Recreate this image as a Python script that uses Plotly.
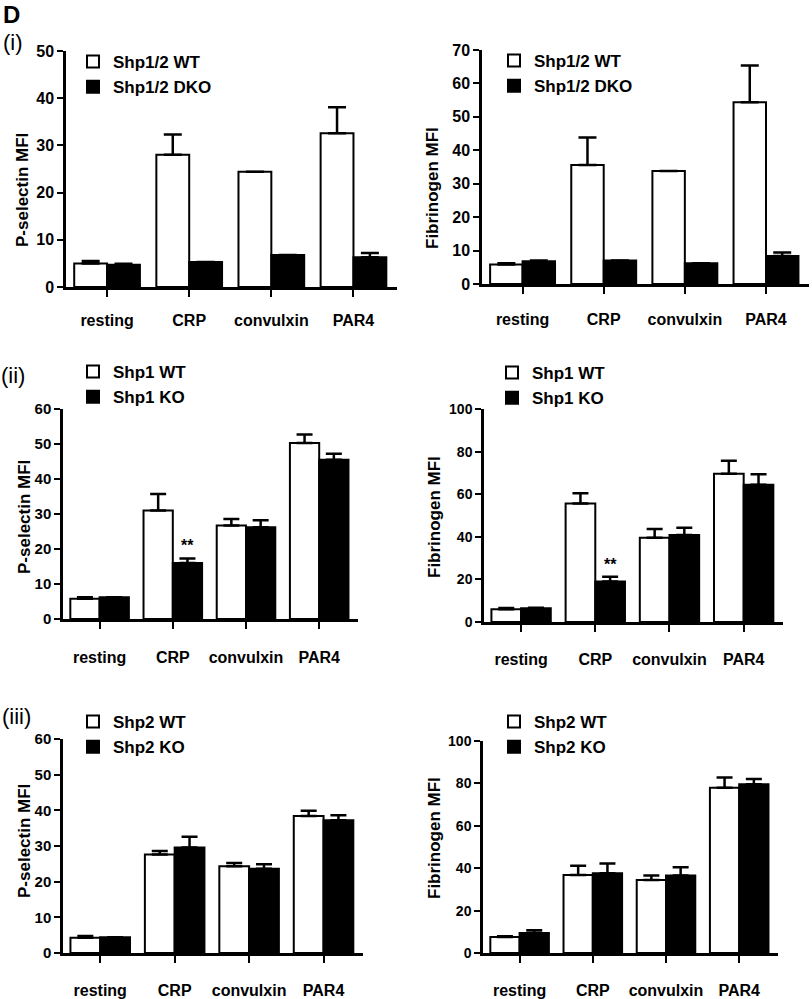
import plotly.graph_objects as go

categories = ["resting", "CRP", "convulxin", "PAR4"]

# (i) Shp1/2
p1_wt = [5.0, 28.0, 24.4, 32.6]
p1_wt_err = [0.5, 4.3, 0.0, 5.5]
p1_ko = [4.7, 5.3, 6.8, 6.3]
p1_ko_err = [0.2, 0.0, 0.0, 0.9]
f1_wt = [5.8, 35.6, 33.8, 54.4]
f1_wt_err = [0.4, 8.2, 0.0, 11.0]
f1_ko = [6.8, 7.0, 6.2, 8.4]
f1_ko_err = [0.2, 0.0, 0.0, 1.0]

# (ii) Shp1
p2_wt = [5.8, 31.0, 26.7, 50.3]
p2_wt_err = [0.4, 4.7, 1.9, 2.4]
p2_ko = [6.2, 16.0, 26.2, 45.5]
p2_ko_err = [0.0, 1.3, 2.0, 1.7]
f2_wt = [6.0, 55.6, 39.6, 69.6]
f2_wt_err = [0.6, 4.8, 4.1, 6.1]
f2_ko = [6.4, 19.0, 40.8, 64.4]
f2_ko_err = [0.3, 2.3, 3.4, 5.0]

# (iii) Shp2
p3_wt = [4.3, 27.6, 24.3, 38.4]
p3_wt_err = [0.5, 1.0, 0.9, 1.5]
p3_ko = [4.4, 29.6, 23.6, 37.2]
p3_ko_err = [0.0, 3.0, 1.3, 1.4]
f3_wt = [7.6, 36.8, 34.4, 78.0]
f3_wt_err = [0.3, 4.3, 2.1, 4.8]
f3_ko = [9.4, 37.6, 36.6, 79.6]
f3_ko_err = [1.3, 4.6, 3.9, 2.5]

W, H = 812, 999
FONT = "Liberation Sans, Arial, Helvetica, sans-serif"

def px(x):
    return x / W

def py(y):
    return 1 - y / H

fig = go.Figure()

panels = [
    dict(wt=p1_wt, wte=p1_wt_err, ko=p1_ko, koe=p1_ko_err, names=("Shp1/2 WT", "Shp1/2 DKO"),
         ytitle="P-selectin MFI", yr=50, dt=10, xd=(66, 397), yd=(51, 287), leg=(115, 61),
         title_xy=(23, 190), tf=16, ew=9, xs=10),
    dict(wt=f1_wt, wte=f1_wt_err, ko=f1_ko, koe=f1_ko_err, names=("Shp1/2 WT", "Shp1/2 DKO"),
         ytitle="Fibrinogen MFI", yr=70, dt=10, xd=(482, 809), yd=(50, 284), leg=(536, 60),
         title_xy=(433, 188), tf=16, ew=9, xs=12),
    dict(wt=p2_wt, wte=p2_wt_err, ko=p2_ko, koe=p2_ko_err, names=("Shp1 WT", "Shp1 KO"),
         ytitle="P-selectin MFI", yr=60, dt=10, xd=(63, 358), yd=(409, 619), leg=(115, 371),
         title_xy=(24, 517), tf=15, ew=8, xs=15),
    dict(wt=f2_wt, wte=f2_wt_err, ko=f2_ko, koe=f2_ko_err, names=("Shp1 WT", "Shp1 KO"),
         ytitle="Fibrinogen MFI", yr=100, dt=20, xd=(484, 783), yd=(409, 622), leg=(534, 372),
         title_xy=(434, 517), tf=14, ew=8, xs=14),
    dict(wt=p3_wt, wte=p3_wt_err, ko=p3_ko, koe=p3_ko_err, names=("Shp2 WT", "Shp2 KO"),
         ytitle="P-selectin MFI", yr=60, dt=10, xd=(63, 363), yd=(739, 953), leg=(115, 721),
         title_xy=(24, 841), tf=15, ew=8, xs=14),
    dict(wt=f3_wt, wte=f3_wt_err, ko=f3_ko, koe=f3_ko_err, names=("Shp2 WT", "Shp2 KO"),
         ytitle="Fibrinogen MFI", yr=100, dt=20, xd=(483, 778), yd=(741, 953), leg=(536, 721),
         title_xy=(434, 838), tf=14, ew=8, xs=14),
]

annotations = []
layout_axes = {}
for i, p in enumerate(panels, start=1):
    sfx = "" if i == 1 else str(i)
    xa, ya = "x" + sfx, "y" + sfx
    legname = "legend" + sfx
    for name, vals, errs, fill in ((p["names"][0], p["wt"], p["wte"], "white"),
                                   (p["names"][1], p["ko"], p["koe"], "black")):
        fig.add_trace(go.Bar(
            x=categories, y=vals, name=name, xaxis=xa, yaxis=ya, legend=legname,
            marker=dict(color=fill, line=dict(color="black", width=2)),
            error_y=dict(type="data", array=errs, arrayminus=[0] * len(errs), symmetric=False,
                         color="black", thickness=2.5, width=p["ew"]),
        ))
    layout_axes["xaxis" + sfx] = dict(
        domain=[px(p["xd"][0]), px(p["xd"][1])], anchor=ya, type="category",
        range=[-0.5, 3.53], showline=True, linecolor="black", linewidth=2.5,
        ticks="outside", ticklen=7, tickwidth=2, tickcolor="black", showgrid=False,
        zeroline=False, ticklabelstandoff=p["xs"], automargin=False,
        tickfont=dict(family=FONT, size=16, color="black", weight="bold"),
    )
    layout_axes["yaxis" + sfx] = dict(
        domain=[py(p["yd"][1]), py(p["yd"][0])], anchor=xa, range=[0, p["yr"]], dtick=p["dt"],
        showline=True, linecolor="black", linewidth=2.5, ticks="outside", ticklen=6,
        tickwidth=2, tickcolor="black", showgrid=False, zeroline=False, automargin=False,
        tickfont=dict(family=FONT, size=p["tf"], color="black", weight="bold"),
    )
    layout_axes[legname] = dict(
        x=px(p["leg"][0] - 42), y=py(p["leg"][1] - 17), xanchor="left", yanchor="top",
        bgcolor="rgba(0,0,0,0)", borderwidth=0, traceorder="normal",
        font=dict(family=FONT, size=17, color="black", weight="bold"),
    )
    annotations.append(dict(
        x=px(p["title_xy"][0]), y=py(p["title_xy"][1]), xref="paper", yref="paper",
        text="<b>" + p["ytitle"] + "</b>", textangle=-90, showarrow=False,
        xanchor="center", yanchor="middle",
        font=dict(family=FONT, size=17, color="black", weight="bold"),
    ))

# significance markers on the Shp1 KO CRP bars
for sfx, vals, errs in (("3", p2_ko, p2_ko_err), ("4", f2_ko, f2_ko_err)):
    annotations.append(dict(
        x=1.2, y=vals[1] + errs[1], xref="x" + sfx, yref="y" + sfx, text="<b>**</b>",
        showarrow=False, yanchor="bottom", yshift=2,
        font=dict(family=FONT, size=16, color="black", weight="bold"),
    ))

# panel letter, anchored to the top edge so it is not clipped
annotations.append(dict(
    x=px(11), y=1, xref="paper", yref="paper", text="<b>D</b>", showarrow=False,
    xanchor="center", yanchor="top", borderpad=0,
    font=dict(family=FONT, size=24, color="black", weight="bold"),
))
for txt, x, y in (("(i)", 13, 42), ("(ii)", 13, 375), ("(iii)", 16, 716)):
    annotations.append(dict(
        x=px(x), y=py(y), xref="paper", yref="paper", text=txt, showarrow=False,
        xanchor="center", yanchor="middle",
        font=dict(family=FONT, size=22, color="black", weight="normal"),
    ))

fig.update_layout(
    template="none",
    width=W, height=H, autosize=False, margin=dict(l=0, r=0, t=0, b=0, pad=0),
    paper_bgcolor="white", plot_bgcolor="white", barmode="group", bargap=0.2, bargroupgap=0,
    annotations=annotations, **layout_axes,
)

fig.write_html("out.html", config={"displayModeBar": False},
               post_script="document.body.style.margin='0px';")
